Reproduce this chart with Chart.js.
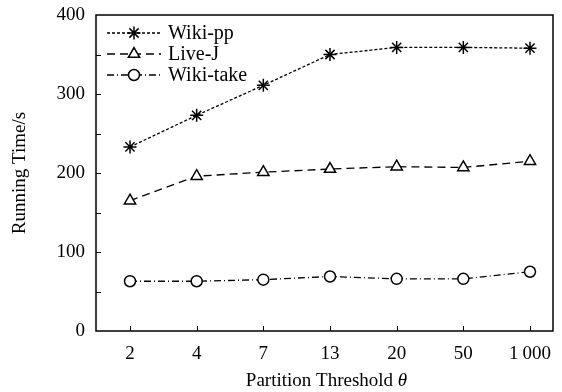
<!DOCTYPE html>
<html>
<head>
<meta charset="utf-8">
<script src="https://cdn.jsdelivr.net/npm/chart.js@4"></script>
<style>
  html, body { margin: 0; padding: 0; background: #fff; }
  #wrap { width: 562px; height: 392px; }
</style>
</head>
<body>
<div id="wrap"><canvas id="c" width="562" height="392"></canvas></div>
<script>
const categories = ["2", "4", "7", "13", "20", "50", "1\u2009000"];
const wikiPP   = [233, 273, 311, 350, 359, 359, 358];
const liveJ    = [165, 196, 201, 205, 208, 207, 215];
const wikiTake = [63, 63, 65, 69, 66, 66, 75];
const yTicks   = [0, 100, 200, 300, 400];

const FONT = "'Liberation Serif', 'DejaVu Serif', serif";
const pts = arr => arr.map((v, i) => ({ x: i, y: v }));

const series = [
  { label: "Wiki-pp",   data: wikiPP,   dash: [3, 2],       style: "star",     r: 6.5 },
  { label: "Live-J",    data: liveJ,    dash: [8, 5],       style: "triangle", r: 6.5 },
  { label: "Wiki-take", data: wikiTake, dash: [7, 3, 1, 3], style: "circle",   r: 5.5 }
];

// frame, inward ticks, legend, x title
const decor = {
  id: "decor",
  afterDraw(chart) {
    const { ctx, chartArea: a, scales: { x, y } } = chart;
    ctx.save();
    ctx.strokeStyle = "#000";
    ctx.lineWidth = 1.5;
    ctx.setLineDash([]);
    ctx.strokeRect(a.left, a.top, a.right - a.left, a.bottom - a.top);
    ctx.lineWidth = 1;
    ctx.beginPath();
    for (let v = 50; v < 400; v += 50) {
      const py = Math.round(y.getPixelForValue(v)) + 0.5;
      ctx.moveTo(a.left, py); ctx.lineTo(a.left + 5, py);
    }
    categories.forEach((c, i) => {
      const px = Math.round(x.getPixelForValue(i)) + 0.5;
      ctx.moveTo(px, a.bottom); ctx.lineTo(px, a.bottom - 5);
    });
    ctx.stroke();

    // legend
    const rows = [33, 54, 75];
    ctx.font = "20px " + FONT;
    ctx.textBaseline = "middle";
    ctx.fillStyle = "#000";
    series.forEach((s, i) => {
      const ly = rows[i];
      ctx.lineWidth = 1.3;
      ctx.setLineDash(s.dash);
      ctx.beginPath(); ctx.moveTo(107, ly); ctx.lineTo(161, ly); ctx.stroke();
      ctx.setLineDash([]);
      ctx.lineWidth = 1.5;
      ctx.fillStyle = "#fff";
      Chart.helpers.drawPoint(ctx, { pointStyle: s.style, radius: s.r, borderWidth: 1.5 }, 134, ly);
      ctx.fillStyle = "#000";
      ctx.fillText(s.label, 168, ly + 1);
    });

    // x title with italic theta
    const t1 = "Partition Threshold ";
    ctx.font = "19px " + FONT;
    const w1 = ctx.measureText(t1).width;
    ctx.font = "italic 19px " + FONT;
    const w2 = ctx.measureText("\u03b8").width;
    const cx = (a.left + a.right) / 2 + 2;
    const sx = cx - (w1 + w2) / 2;
    ctx.textAlign = "left";
    ctx.font = "19px " + FONT;
    ctx.fillText(t1, sx, 381);
    ctx.font = "italic 19px " + FONT;
    ctx.fillText("\u03b8", sx + w1, 381);
    ctx.restore();
  }
};

new Chart(document.getElementById("c"), {
  type: "line",
  data: {
    datasets: series.map(s => ({
      label: s.label,
      data: pts(s.data),
      borderColor: "#000",
      borderWidth: 1.3,
      borderDash: s.dash,
      pointStyle: s.style,
      pointRadius: s.r,
      pointBorderWidth: 1.5,
      pointBackgroundColor: "#fff",
      pointBorderColor: "#000",
      tension: 0
    }))
  },
  options: {
    responsive: false,
    animation: false,
    layout: { padding: { left: 0, right: 9, top: 15, bottom: 0 } },
    plugins: { legend: { display: false }, tooltip: { enabled: false } },
    scales: {
      x: {
        type: "linear",
        min: -0.51, max: 6.345,
        afterFit(s) { s.height = 61; s.paddingLeft = 0; s.paddingRight = 0; },
        afterBuildTicks(s) { s.ticks = categories.map((c, i) => ({ value: i })); },
        grid: { display: false, drawTicks: false },
        border: { display: false },
        ticks: {
          padding: 12,
          color: "#000",
          font: { family: FONT, size: 19 },
          callback: v => categories[v]
        }
      },
      y: {
        min: 0, max: 400,
        afterFit(s) { s.width = 96; s.paddingTop = 0; s.paddingBottom = 0; },
        afterBuildTicks(s) { s.ticks = yTicks.map(v => ({ value: v })); },
        grid: { display: false, drawTicks: false },
        border: { display: false },
        ticks: { padding: 11, color: "#000", font: { family: FONT, size: 19 } },
        title: {
          display: true,
          text: "Running Time/s",
          color: "#000",
          font: { family: FONT, size: 19 },
          padding: { top: 9, bottom: 0 }
        }
      }
    }
  },
  plugins: [decor]
});
</script>
</body>
</html>
